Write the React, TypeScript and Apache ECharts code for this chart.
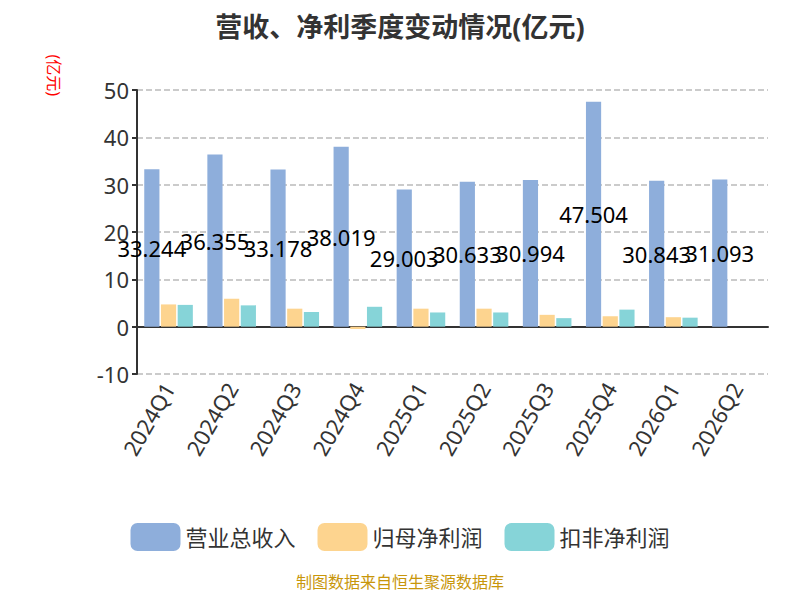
import React, { useEffect, useRef } from "react";
import * as echarts from "echarts";

const quarters = ["2024Q1", "2024Q2", "2024Q3", "2024Q4", "2025Q1", "2025Q2", "2025Q3", "2025Q4", "2026Q1", "2026Q2"];
const revenue = [33.244, 36.355, 33.178, 38.019, 29.003, 30.633, 30.994, 47.504, 30.843, 31.093];
const netProfit = [4.7, 5.9, 3.8, -0.5, 3.8, 3.8, 2.5, 2.2, 2.0, null];
const deductedProfit = [4.6, 4.5, 3.1, 4.2, 3.0, 3.0, 1.8, 3.6, 1.9, null];

export default function App() {
  const chartRef = useRef<HTMLDivElement>(null);

  useEffect(() => {
    if (!chartRef.current) return;
    const chart = echarts.init(chartRef.current, null, { renderer: "svg" });
    const font = "'Noto Sans', 'Noto Sans CJK SC', sans-serif";
    chart.setOption({
      animation: false,
      textStyle: { fontFamily: font },
      title: {
        text: "营收、净利季度变动情况(亿元)",
        left: "center",
        top: 0,
        textStyle: { fontSize: 27, fontWeight: "bold", color: "#333", fontFamily: font },
      },
      legend: {
        bottom: 36,
        itemWidth: 50,
        itemHeight: 28,
        itemGap: 22,
        textStyle: { fontSize: 22, color: "#333" },
      },
      grid: { left: 129, right: 24, top: 82, bottom: 218 },
      xAxis: {
        type: "category",
        data: quarters,
        axisLine: { lineStyle: { color: "#333", width: 2 } },
        axisTick: { lineStyle: { color: "#333", width: 2 } },
        axisLabel: { rotate: 60, fontSize: 22, color: "#333", margin: 10 },
      },
      yAxis: {
        type: "value",
        min: -10,
        max: 50,
        interval: 10,
        axisLine: { show: true, lineStyle: { color: "#333", width: 2 } },
        axisTick: { show: true, lineStyle: { color: "#333", width: 2 } },
        axisLabel: { fontSize: 22, color: "#333" },
        splitLine: { lineStyle: { type: "dashed", color: "#bbb", width: 1.5 } },
      },
      graphic: [
        {
          type: "text",
          x: 54,
          y: 88,
          rotation: -Math.PI / 2,
          originX: 0,
          originY: 0,
          style: { text: "(亿元)", fill: "red", fontSize: 16, fontFamily: font, align: "right" },
        },
        {
          type: "text",
          left: "center",
          bottom: 2,
          style: { text: "制图数据来自恒生聚源数据库", fill: "#c8960a", fontSize: 16, fontFamily: font },
        },
      ],
      series: [
        {
          name: "营业总收入",
          type: "bar",
          data: revenue,
          barGap: "10%",
          itemStyle: { color: "#8eaedb" },
          label: { show: true, position: "inside", color: "#000", fontSize: 22 },
        },
        { name: "归母净利润", type: "bar", data: netProfit, itemStyle: { color: "#fdd48f" } },
        { name: "扣非净利润", type: "bar", data: deductedProfit, itemStyle: { color: "#86d4d8" } },
      ],
    });
    return () => chart.dispose();
  }, []);

  return <div ref={chartRef} style={{ width: "784px", height: "584px" }} />;
}
